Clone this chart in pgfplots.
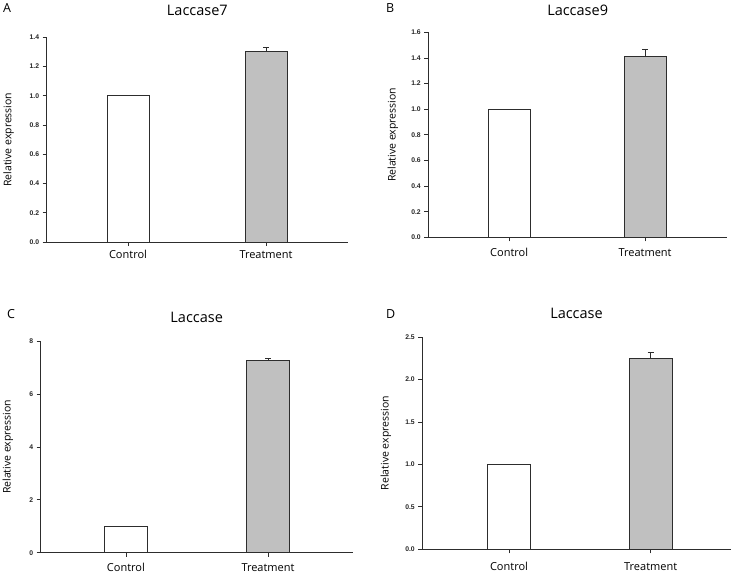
\documentclass[border=0pt]{standalone}
\usepackage{fontspec}
\setmainfont{Open Sans}
\newfontfamily\tickfont{Liberation Sans}
\usepackage{pgfplots}
\pgfplotsset{compat=1.18}
\definecolor{barfill}{RGB}{192,192,192}
\definecolor{edge}{RGB}{45,45,45}
\pgfplotsset{
  panel/.style={
    scale only axis, anchor=south west, clip=false,
    axis lines=left, axis line style={-, draw=edge, line width=0.7pt},
    tick align=outside, major tick length=4pt,
    tick style={draw=edge, line width=0.7pt},
    ymin=0, xtick={0,1}, xticklabels={Control,Treatment},
    xticklabel style={font=\fontsize{11}{13}\selectfont, anchor=base, inner sep=0pt},
    yticklabel style={font=\tickfont\bfseries\fontsize{6.8}{7}\selectfont, text=black!85},
    /pgf/number format/assume math mode=true,
    ylabel={Relative expression},
    ylabel style={font=\fontsize{10.5}{12}\selectfont, anchor=south, inner sep=0pt},
    title style={font=\fontsize{14.5}{16}\selectfont, at={(0.5,1)}, anchor=base},
  },
  ctl/.style={ybar, bar width=#1, bar shift=0pt, fill=white, draw=edge, line width=0.9pt},
  trt/.style={ybar, bar width=#1, bar shift=0pt, fill=barfill, draw=edge, line width=0.9pt,
    error bars/.cd, y dir=plus, y explicit,
    error bar style={draw=edge, line width=0.8pt},
    error mark options={rotate=90, draw=edge, mark size=3pt, line width=0.8pt}},
}
\begin{document}
\begin{tikzpicture}
\path[use as bounding box] (0,0) rectangle (738pt,574pt);

% Panel A
\begin{axis}[panel, at={(46.7pt,332pt)}, width=301.3pt, height=204.7pt,
  xmin=-0.589, xmax=1.594, ymax=1.4, ytick={0,0.2,...,1.4},
  yticklabel style={/pgf/number format/.cd, fixed, fixed zerofill, precision=1},
  title={Laccase7}, title style={yshift=16pt},
  xticklabel style={yshift=-12.5pt},
  ylabel style={at={(axis description cs:-0.108,0.5)}}]
\addplot[ctl=42pt] coordinates {(0,1.0)};
\addplot[trt=42pt] coordinates {(1,1.30) +- (0,0.03)};
\end{axis}

% Panel B
\begin{axis}[panel, at={(428.3pt,336.7pt)}, width=298.7pt, height=205pt,
  xmin=-0.595, xmax=1.603, ymax=1.6, ytick={0,0.2,...,1.6},
  yticklabel style={/pgf/number format/.cd, fixed, fixed zerofill, precision=1},
  title={Laccase9}, title style={yshift=11pt},
  xticklabel style={yshift=-14.7pt},
  ylabel style={at={(axis description cs:-0.100,0.5)}}]
\addplot[ctl=42pt] coordinates {(0,1.0)};
\addplot[trt=42pt] coordinates {(1,1.41) +- (0,0.06)};
\end{axis}

% Panel C
\begin{axis}[panel, at={(40.7pt,21.3pt)}, width=312pt, height=211.7pt,
  xmin=-0.6, xmax=1.596, ymax=8, ytick={0,2,4,6,8},
  title={Laccase}, title style={yshift=12.3pt},
  xticklabel style={yshift=-15pt},
  ylabel style={at={(axis description cs:-0.088,0.5)}}]
\addplot[ctl=43pt] coordinates {(0,1.0)};
\addplot[trt=43pt] coordinates {(1,7.25) +- (0,0.08)};
\end{axis}

% Panel D
\begin{axis}[panel, at={(422.3pt,24.7pt)}, width=308.4pt, height=212.3pt,
  xmin=-0.612, xmax=1.565, ymax=2.5, ytick={0,0.5,...,2.5},
  yticklabel style={/pgf/number format/.cd, fixed, fixed zerofill, precision=1},
  title={Laccase}, title style={yshift=12.3pt},
  xticklabel style={yshift=-17pt},
  ylabel style={at={(axis description cs:-0.100,0.5)}}]
\addplot[ctl=43pt] coordinates {(0,1.0)};
\addplot[trt=43pt] coordinates {(1,2.25) +- (0,0.07)};
\end{axis}

\node[anchor=base west, inner sep=0pt, font=\fontsize{12.5}{14}\selectfont] at (3pt,561pt) {A};
\node[anchor=base west, inner sep=0pt, font=\fontsize{12.5}{14}\selectfont] at (386pt,561pt) {B};
\node[anchor=base west, inner sep=0pt, font=\fontsize{12.5}{14}\selectfont] at (7pt,256pt) {C};
\node[anchor=base west, inner sep=0pt, font=\fontsize{12.5}{14}\selectfont] at (386pt,256pt) {D};
\end{tikzpicture}
\end{document}
